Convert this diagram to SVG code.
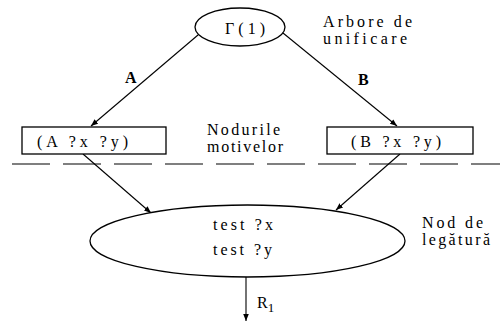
<svg xmlns="http://www.w3.org/2000/svg" width="500" height="323" viewBox="0 0 500 323">
<defs>
<marker id="ah" viewBox="0 0 10 10" refX="10" refY="5" markerWidth="7" markerHeight="7" orient="auto-start-reverse" markerUnits="userSpaceOnUse">
<path d="M0,1 L10,5 L0,9 Z" fill="#000"/>
</marker>
<style>
text{font-family:"Liberation Serif","Times New Roman",serif;fill:#000;font-size:16px}
.n{fill:#fff;stroke:#000;stroke-width:1.3}
.c{fill:none;stroke:#000;stroke-width:1.1;marker-end:url(#ah)}
.b{font-weight:bold}
</style>
</defs>
<rect width="500" height="323" fill="#fff"/>
<g id="connectors">
<line class="c" x1="198" y1="35" x2="91" y2="126"/>
<line class="c" x1="283" y1="33" x2="397" y2="126"/>
<line class="c" x1="83" y1="154" x2="151" y2="213"/>
<line class="c" x1="400" y1="154" x2="336" y2="210"/>
<line class="c" x1="246" y1="277" x2="246" y2="321"/>
</g>
<g id="separator">
<line x1="12" y1="164" x2="500" y2="164" stroke="#000" stroke-width="1.1" stroke-dasharray="38 13"/>
</g>
<g id="root">
<ellipse class="n" cx="240" cy="27" rx="45" ry="19"/>
<text x="225" y="34" font-size="17" textLength="40" lengthAdjust="spacing">Γ(1)</text>
</g>
<g id="root-label">
<text x="323" y="27" textLength="89" lengthAdjust="spacing">Arbore de</text>
<text x="323" y="44" textLength="84" lengthAdjust="spacing">unificare</text>
</g>
<g id="edge-labels">
<text class="b" x="125" y="83" font-size="15">A</text>
<text class="b" x="358" y="85" font-size="15">B</text>
</g>
<g id="nodeA">
<rect class="n" x="22" y="127" width="144" height="27"/>
<text x="37" y="147" textLength="91" lengthAdjust="spacing">(A  ?x  ?y)</text>
</g>
<g id="nodeB">
<rect class="n" x="327" y="127" width="146" height="27"/>
<text x="351" y="147" textLength="90" lengthAdjust="spacing">(B  ?x  ?y)</text>
</g>
<g id="motif-label">
<text x="207" y="135" textLength="73" lengthAdjust="spacing">Nodurile</text>
<text x="207" y="152" textLength="76" lengthAdjust="spacing">motivelor</text>
</g>
<g id="join">
<ellipse class="n" cx="247.5" cy="241" rx="157.5" ry="36"/>
<text x="213" y="230" textLength="60" lengthAdjust="spacing">test ?x</text>
<text x="213" y="255" textLength="59" lengthAdjust="spacing">test ?y</text>
</g>
<g id="join-label">
<text x="422" y="228" textLength="61" lengthAdjust="spacing">Nod de</text>
<text x="422" y="245" textLength="68" lengthAdjust="spacing">legătură</text>
</g>
<g id="result-label">
<text x="257" y="308">R<tspan font-size="13" dy="4">1</tspan></text>
</g>
</svg>
